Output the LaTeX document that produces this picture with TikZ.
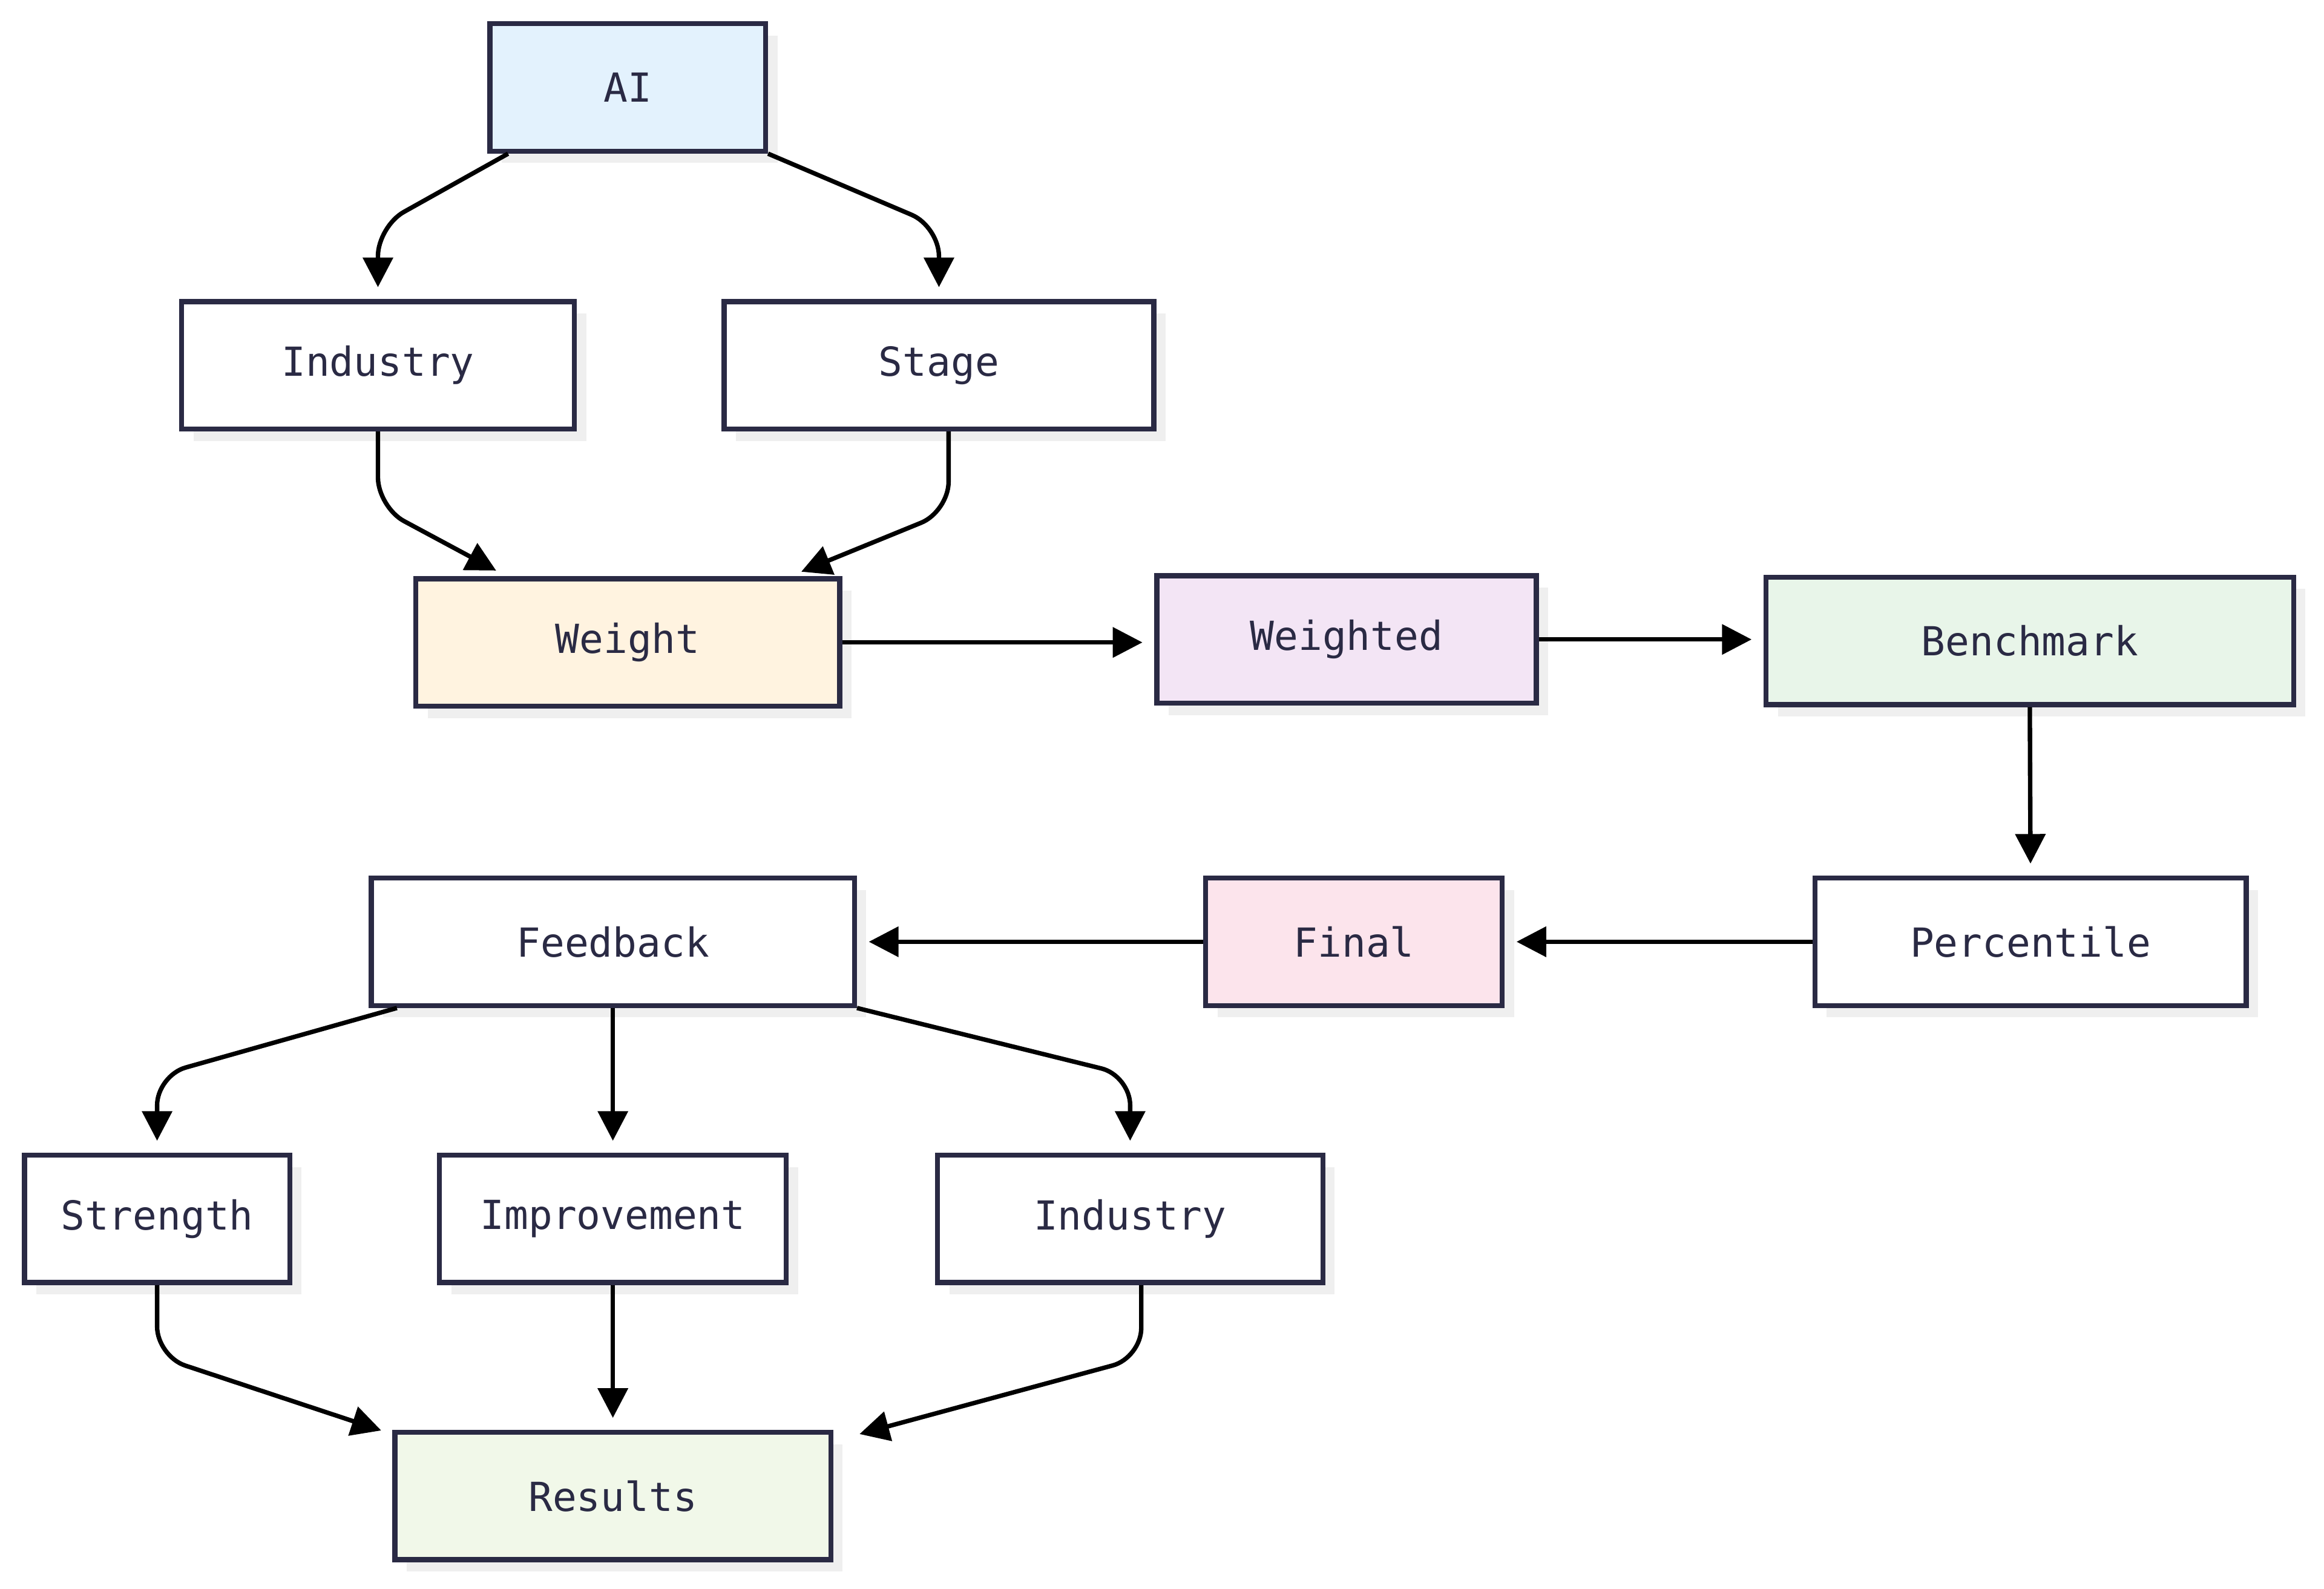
\documentclass[tikz,border=0pt]{standalone}
\usepackage{fontspec}
\setmonofont{DejaVu Sans Mono}
\usepackage{tikz}
\usetikzlibrary{arrows.meta,shadows,calc}
\definecolor{ink}{HTML}{2A2A44}
\definecolor{aiblue}{HTML}{E3F2FD}
\definecolor{weightorange}{HTML}{FFF3E0}
\definecolor{weightedpurple}{HTML}{F3E5F5}
\definecolor{benchgreen}{HTML}{E8F5E9}
\definecolor{finalpink}{HTML}{FCE4EC}
\definecolor{resultgreen}{HTML}{F1F8E9}
\definecolor{shade}{HTML}{EFEFEF}
\tikzset{
  box/.style={draw=ink, line width=3.4pt, fill=white, text=ink, inner sep=0pt,
    minimum height=86pt, font=\ttfamily\fontsize{27}{32}\selectfont,
    general shadow={fill=shade, shadow xshift=8pt, shadow yshift=-8pt}},
  link/.style={->, line width=3pt, shorten >=8pt, rounded corners=20pt},
}

\begin{document}
\begin{tikzpicture}[x=1pt, y=-1pt, >={Triangle[length=20pt,width=20pt]}]
	\useasboundingbox (0,0) rectangle (1568,1072);
	% nodes
	\node [box, fill=aiblue, minimum width=186pt] (ai) at (423.5,59) {AI};
	\node [box, minimum width=265pt] (ind1) at (255,246.5) {Industry};
	\node [box, minimum width=290pt] (stage) at (633.5,246.5) {Stage};
	\node [box, fill=weightorange, minimum width=286pt] (weight) at (423.5,433.5) {Weight};
	\node [box, fill=weightedpurple, minimum width=256pt] (weighted) at (908.5,431.5) {Weighted};
	\node [box, fill=benchgreen, minimum width=356pt] (bench) at (1369.5,432.5) {Benchmark};
	\node [box, minimum width=291pt] (perc) at (1370,635.5) {Percentile};
	\node [box, fill=finalpink, minimum width=200pt] (final) at (913.5,635.5) {Final};
	\node [box, minimum width=326pt] (feedback) at (413.5,635.5) {Feedback};
	\node [box, minimum width=179pt] (strength) at (106,822.5) {Strength};
	\node [box, minimum width=234pt] (impr) at (413.5,822.5) {Improvement};
	\node [box, minimum width=260pt] (ind2) at (762.5,822.5) {Industry};
	\node [box, fill=resultgreen, minimum width=294pt] (results) at (413.5,1009.5) {Results};
	% connectors
	\draw [link] ($(ai.south west)+(14,0)$) -- ($(ind1.north)+(0,-49)$) -- (ind1.north);
	\draw [link] (ai.south east) -- ($(stage.north)+(0,-49)$) -- (stage.north);
	\draw [link] (ind1.south) -- ($(ind1.south)+(0,51)$) -- ($(weight.north west)+(63,0)$);
	\draw [link] ($(stage.south)+(6.5,0)$) -- ($(stage.south)+(6.5,54)$) -- ($(weight.north east)+(-35,0)$);
	\draw [link] (weight.east) -- (weight.east -| weighted.west);
	\draw [link] (weighted.east) -- (weighted.east -| bench.west);
	\draw [link] (bench.south) -- (perc.north);
	\draw [link] (perc.west) -- (final.east);
	\draw [link] (final.west) -- (feedback.east);
	\draw [link] ($(feedback.south west)+(19,0)$) -- ($(strength.north)+(0,-52)$) -- (strength.north);
	\draw [link] (feedback.south) -- (impr.north);
	\draw [link] (feedback.south east) -- ($(ind2.north)+(0,-52)$) -- (ind2.north);
	\draw [link] (strength.south) -- ($(strength.south)+(0,48)$) -- ($(results.north west)+(0,3)$);
	\draw [link] (impr.south) -- (results.north);
	\draw [link] ($(ind2.south)+(7.5,0)$) -- ($(ind2.south)+(7.5,49)$) -- ($(results.north east)+(10,5)$);
\end{tikzpicture}
\end{document}
